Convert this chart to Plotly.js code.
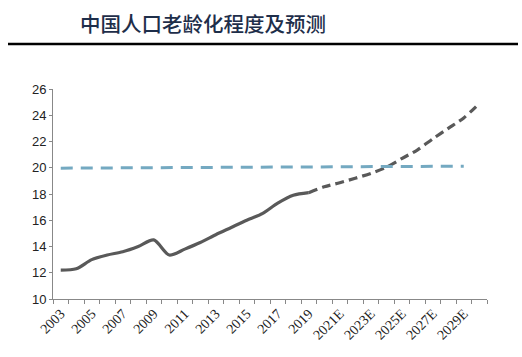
<!DOCTYPE html>
<html>
<head>
<meta charset="utf-8">
<script src="https://cdn.plot.ly/plotly-3.0.1.min.js"></script>
<style>html,body{margin:0;padding:0;background:#fff;}#chart{width:522px;height:357px;}</style>
</head>
<body>
<div id="chart"></div>
<script>
var categories = ['2003','2004','2005','2006','2007','2008','2009','2010','2011','2012','2013','2014','2015','2016','2017','2018','2019','2020E','2021E','2022E','2023E','2024E','2025E','2026E','2027E','2028E','2029E','2030E'];
var tickLabels = ['2003','','2005','','2007','','2009','','2011','','2013','','2015','','2017','','2019','','2021E','','2023E','','2025E','','2027E','','2029E',''];

var historyYears = ['2003','2004','2005','2006','2007','2008','2009','2010','2011','2012','2013','2014','2015','2016','2017','2018','2019'];
var historyValues = [12.2, 12.3, 13.0, 13.35, 13.6, 14.0, 14.5, 13.35, 13.8, 14.3, 14.9, 15.45, 16.0, 16.5, 17.3, 17.9, 18.1];

var forecastYears = ['2019','2020E','2021E','2022E','2023E','2024E','2025E','2026E','2027E','2028E','2029E','2030E'];
var forecastValues = [18.1, 18.55, 18.86, 19.2, 19.57, 20.03, 20.7, 21.35, 22.2, 23.0, 23.8, 24.9];

var thresholdYears = ['2003','2029E'];
var thresholdValues = [19.97, 20.12];

var traces = [
  {x: historyYears, y: historyValues, type:'scatter', mode:'lines',
   line:{color:'#595959', width:3.2, shape:'spline', smoothing:0.8}, hoverinfo:'skip'},
  {x: forecastYears, y: forecastValues, type:'scatter', mode:'lines',
   line:{color:'#595959', width:3.2, dash:'9px,5px', shape:'spline', smoothing:0.8}, hoverinfo:'skip'},
  {x: thresholdYears, y: thresholdValues, type:'scatter', mode:'lines',
   line:{color:'#74a9c1', width:3, dash:'12px,8px'}, hoverinfo:'skip'}
];

var layout = {
  width:522, height:357,
  margin:{l:53, r:35, t:89, b:58},
  paper_bgcolor:'#fff', plot_bgcolor:'#fff',
  showlegend:false,
  title:{text:'中国人口老龄化程度及预测', xref:'container', yref:'container', x:80/522, xanchor:'left', y:1-25/357, yanchor:'middle',
    font:{family:'Noto Sans CJK SC', size:20.5, color:'#1e2e4a', weight:500}},
  xaxis:{type:'category', categoryorder:'array', categoryarray:categories,
    tickmode:'array', tickvals:categories, ticktext:tickLabels,
    tickson:'boundaries', ticks:'outside', ticklen:4, tickcolor:'#888', tickwidth:1,
    showline:true, linecolor:'#888', linewidth:1, showgrid:false, zeroline:false,
    tickangle:-45, tickfont:{family:'Liberation Serif', size:14, color:'#222'},
    range:[-0.5, 27.5], fixedrange:true},
  yaxis:{range:[10,26], dtick:2, tick0:10, ticks:'outside', ticklen:3, tickcolor:'#888',
    showline:true, linecolor:'#888', linewidth:1, showgrid:false, zeroline:false,
    tickfont:{family:'Liberation Sans', size:13, color:'#222'}, fixedrange:true},
  shapes:[{type:'line', xref:'paper', yref:'paper', x0:-45/434, x1:(518-53)/434, y0:1+(89-44)/210, y1:1+(89-44)/210,
    line:{color:'#000', width:2.5}}]
};

Plotly.newPlot('chart', traces, layout, {displayModeBar:false, staticPlot:true});
</script>
</body>
</html>
